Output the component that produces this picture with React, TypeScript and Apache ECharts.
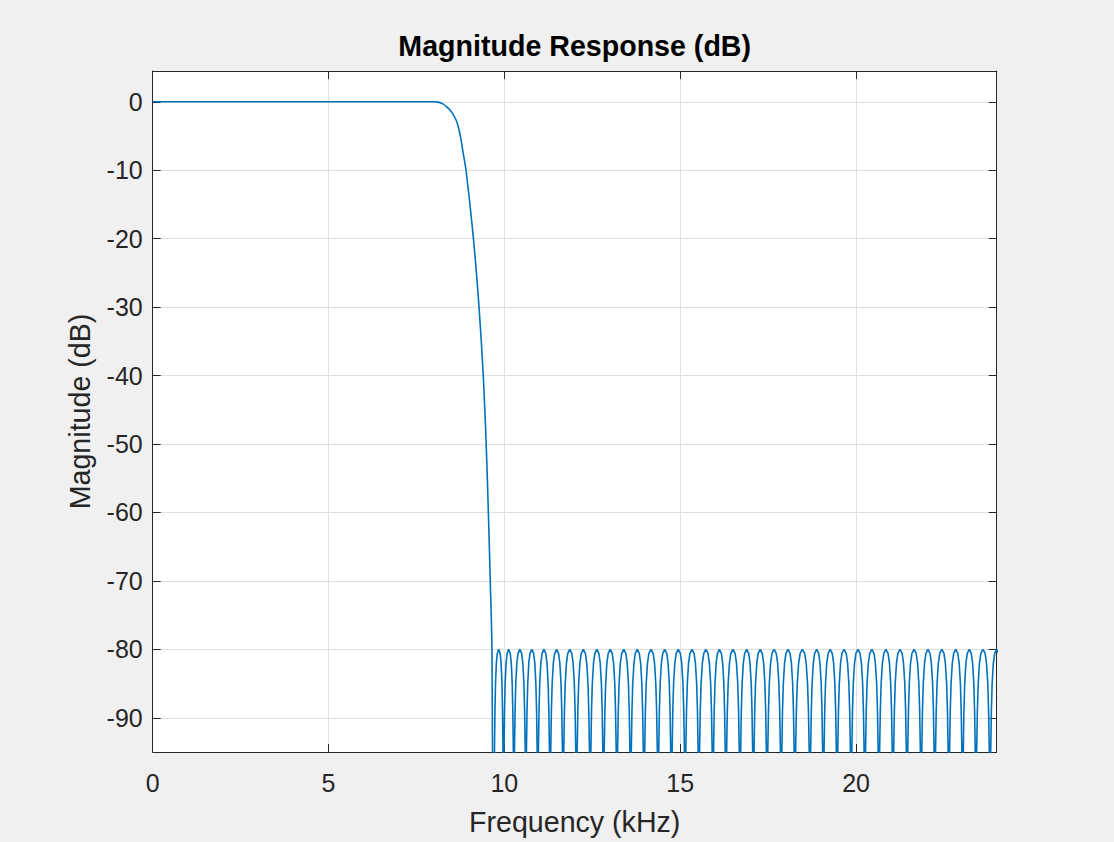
import React, { useEffect, useRef } from "react";
import * as echarts from "echarts";

// Tick labels
const X_TICKS = [0, 5, 10, 15, 20];
const Y_TICKS = [0, -10, -20, -30, -40, -50, -60, -70, -80, -90];

// Passband + transition band (kHz, dB)
const PASS_FREQ = [0, 2, 4, 6, 7.5, 8.0, 8.12, 8.25, 8.36, 8.46, 8.55, 8.63, 8.69, 8.76, 8.83, 8.91, 9.12, 9.28, 9.4, 9.483, 9.545, 9.599, 9.647];
const PASS_DB = [0, 0, 0, 0, 0, 0, -0.05, -0.3, -0.73, -1.25, -1.9, -2.7, -3.65, -5.3, -7.5, -10, -20, -30, -40, -50, -60, -70, -80];

// Stopband nulls (kHz); the last entry mirrors 23.81 about the edge peak at 24 kHz
const STOP_NULLS = [
  9.705, 9.975, 10.27, 10.61, 10.95, 11.3, 11.67, 12.05, 12.44, 12.82, 13.2, 13.59,
  13.97, 14.37, 14.75, 15.14, 15.53, 15.93, 16.3, 16.7, 17.08, 17.47, 17.87, 18.26,
  18.69, 19.07, 19.46, 19.86, 20.25, 20.65, 21.05, 21.45, 21.85, 22.24, 22.64, 23.03,
  23.41, 23.81, 24.19,
];

// Estimated shape of one stopband lobe: position as a fraction of the lobe width from a null, and level (dB)
const LOBE_FRACTIONS = [0, 0.02, 0.05, 0.1, 0.16, 0.25, 0.35, 0.5];
const LOBE_DB = [-140, -102, -95, -89, -85, -82, -80.6, -80];

function buildPass(): [number, number][] {
  const pts: [number, number][] = PASS_FREQ.map((f, i) => [f, PASS_DB[i]] as [number, number]);
  pts.push([STOP_NULLS[0], LOBE_DB[0]]);
  return pts;
}

function buildStop(): [number, number][] {
  const pts: [number, number][] = [];
  for (let k = 0; k < STOP_NULLS.length - 1; k++) {
    const a = STOP_NULLS[k];
    const b = STOP_NULLS[k + 1];
    const w = b - a;
    for (let j = 0; j < LOBE_FRACTIONS.length; j++) {
      if (k > 0 && j === 0) continue;
      pts.push([a + LOBE_FRACTIONS[j] * w, LOBE_DB[j]]);
    }
    for (let j = LOBE_FRACTIONS.length - 2; j >= 0; j--) {
      pts.push([b - LOBE_FRACTIONS[j] * w, LOBE_DB[j]]);
    }
  }
  return pts;
}

const FONT = "'Liberation Sans', Arial, Helvetica, sans-serif";
const AXIS_COLOR = "#262626";
const GRID_COLOR = "#e0e0e0";
const LINE_COLOR = "#0072bd";

export default function App() {
  const ref = useRef<HTMLDivElement>(null);
  useEffect(() => {
    document.body.style.margin = "0";
    if (!ref.current) return;
    const chart = echarts.init(ref.current, undefined, { renderer: "svg" });
    const left = 152.7;
    const right = 1114 - 996.7;
    const top = 71;
    const bottom = 842 - 752;
    const tickStyle = { color: AXIS_COLOR, width: 1 };
    chart.setOption({
      animation: false,
      backgroundColor: "#f0f0f0",
      textStyle: { fontFamily: FONT },
      graphic: [
        {
          type: "text",
          x: (left + 996.7) / 2,
          y: 46,
          style: {
            text: "Magnitude Response (dB)",
            fontFamily: FONT,
            fontSize: 28.6,
            fontWeight: "bold",
            fill: "#000000",
            textAlign: "center",
            textVerticalAlign: "middle",
          },
        },
      ],
      grid: {
        left,
        right,
        top,
        bottom,
        show: true,
        backgroundColor: "#ffffff",
        borderWidth: 0,
        containLabel: false,
        outerBoundsMode: "none",
      },
      xAxis: [
        {
          type: "value",
          min: 0,
          max: 24,
          position: "bottom",
          axisLine: { show: true, onZero: false, lineStyle: tickStyle },
          axisTick: { show: true, inside: true, length: 8, customValues: X_TICKS, lineStyle: tickStyle },
          axisLabel: { customValues: X_TICKS, fontSize: 25, color: AXIS_COLOR, margin: 18, fontFamily: FONT },
          splitLine: { show: true, lineStyle: { color: GRID_COLOR, width: 1 } },
          name: "Frequency (kHz)",
          nameLocation: "middle",
          nameGap: 55,
          nameTextStyle: { fontSize: 28.6, color: AXIS_COLOR, fontFamily: FONT },
        },
        {
          type: "value",
          min: 0,
          max: 24,
          position: "top",
          axisLine: { show: true, onZero: false, lineStyle: tickStyle },
          axisTick: { show: true, inside: true, length: 8, customValues: X_TICKS, lineStyle: tickStyle },
          axisLabel: { show: false, customValues: X_TICKS },
          splitLine: { show: false },
        },
      ],
      yAxis: [
        {
          type: "value",
          min: -95,
          max: 4.5,
          position: "left",
          axisLine: { show: true, onZero: false, lineStyle: tickStyle },
          axisTick: { show: true, inside: true, length: 8, customValues: Y_TICKS, lineStyle: tickStyle },
          axisLabel: { customValues: Y_TICKS, fontSize: 25, color: AXIS_COLOR, margin: 10, fontFamily: FONT },
          splitLine: { show: true, lineStyle: { color: GRID_COLOR, width: 1 } },
          name: "Magnitude (dB)",
          nameLocation: "middle",
          nameGap: 58,
          nameTextStyle: { fontSize: 28.6, color: AXIS_COLOR, fontFamily: FONT },
        },
        {
          type: "value",
          min: -95,
          max: 4.5,
          position: "right",
          axisLine: { show: true, onZero: false, lineStyle: tickStyle },
          axisTick: { show: true, inside: true, length: 8, customValues: Y_TICKS, lineStyle: tickStyle },
          axisLabel: { show: false, customValues: Y_TICKS },
          splitLine: { show: false },
        },
      ],
      series: [
        {
          type: "line",
          xAxisIndex: 0,
          yAxisIndex: 0,
          data: buildPass(),
          showSymbol: false,
          symbol: "none",
          smooth: 0.3,
          clip: true,
          lineStyle: { color: LINE_COLOR, width: 1.6 },
          z: 5,
        },
        {
          type: "line",
          xAxisIndex: 0,
          yAxisIndex: 0,
          data: buildStop(),
          showSymbol: false,
          symbol: "none",
          clip: true,
          lineStyle: { color: LINE_COLOR, width: 1.6 },
          z: 5,
        },
      ],
    });
    return () => chart.dispose();
  }, []);
  return <div ref={ref} style={{ width: 1114, height: 842 }} />;
}
